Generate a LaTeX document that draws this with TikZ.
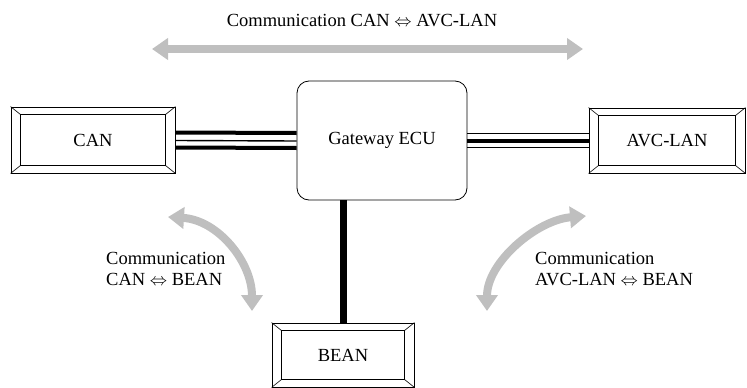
\documentclass[tikz,border=0pt]{standalone}
\usepackage{fontspec}
\setmainfont{Liberation Serif}
\usetikzlibrary{arrows.meta}
\usetikzlibrary{calc}

\tikzset{
	unit/.style={draw, line width=0.8pt, inner sep=0pt},
	comm/.style={line width=8pt, draw=gray!50, {Triangle[width=21pt,length=16pt]}-{Triangle[width=21pt,length=16pt]}},
	bus/.style={line width=4pt},
	wire/.style={line width=1.4pt},
	label/.style={anchor=west, align=left, inner sep=0pt, font=\fontsize{18.5}{21}\selectfont}
}

\begin{document}
\begin{tikzpicture}[x=1pt, y=-1pt, font=\fontsize{18.5}{21}\selectfont]
		\useasboundingbox (0,0) rectangle (747,388);
		% the four units
		\node[unit, minimum width=164pt, minimum height=66pt] (can) at (93,140) {CAN};
		\node[unit, rounded corners=12pt, minimum width=170pt, minimum height=119pt] (gw) at (382,140.5) {Gateway ECU};
		\node[unit, minimum width=156pt, minimum height=65pt] (avc) at (667,140.5) {AVC-LAN};
		\node[unit, minimum width=142pt, minimum height=64pt] (bean) at (343,355) {BEAN};
		\foreach \b in {can,avc,bean}
		{
			\draw[line width=0.6pt] ($(\b.north west)+(10,8)$) rectangle ($(\b.south east)+(-10,-8)$);
			\draw[line width=0.6pt] (\b.north west) -- ++(10,8) (\b.north east) -- ++(-10,8)
			(\b.south west) -- ++(10,-8) (\b.south east) -- ++(-10,-8);
		}
		% buses
		\draw[bus] ([yshift=7.5pt]can.east) -- ([yshift=7.5pt]gw.west);
		\draw[wire] ([yshift=-0.5pt]can.east) -- ([yshift=-0.5pt]gw.west);
		\draw[bus] ([yshift=-7.5pt]can.east) -- ([yshift=-7.5pt]gw.west);
		\draw[wire] ([yshift=7pt]gw.east) -- ([yshift=7pt]avc.west);
		\draw[bus] (gw.east) -- (avc.west);
		\draw[wire] ([yshift=-7pt]gw.east) -- ([yshift=-7pt]avc.west);
		\draw[line width=7pt] (bean.north) -- (bean.north |- gw.south);
		% communication arrows
		\coordinate (topl) at (152,49);
		\coordinate (topr) at (583,49);
		\coordinate (lefta) at (168,217);
		\coordinate (leftb) at (252,311);
		\coordinate (righta) at (586,216);
		\coordinate (rightb) at (487,311);
		\draw[comm] (topl) -- (topr);
		\draw[comm] (lefta) .. controls (218,220) and (252,262) .. (leftb);
		\draw[comm] (righta) .. controls (537,220) and (487,262) .. (rightb);
		\node (toptext) at (362,21) {Communication CAN $\Leftrightarrow$ AVC-LAN};
		\node[label] (lefttext) at (106,269) {Communication\\CAN $\Leftrightarrow$ BEAN};
		\node[label] (righttext) at (535,269) {Communication\\AVC-LAN $\Leftrightarrow$ BEAN};
\end{tikzpicture}
\end{document}
